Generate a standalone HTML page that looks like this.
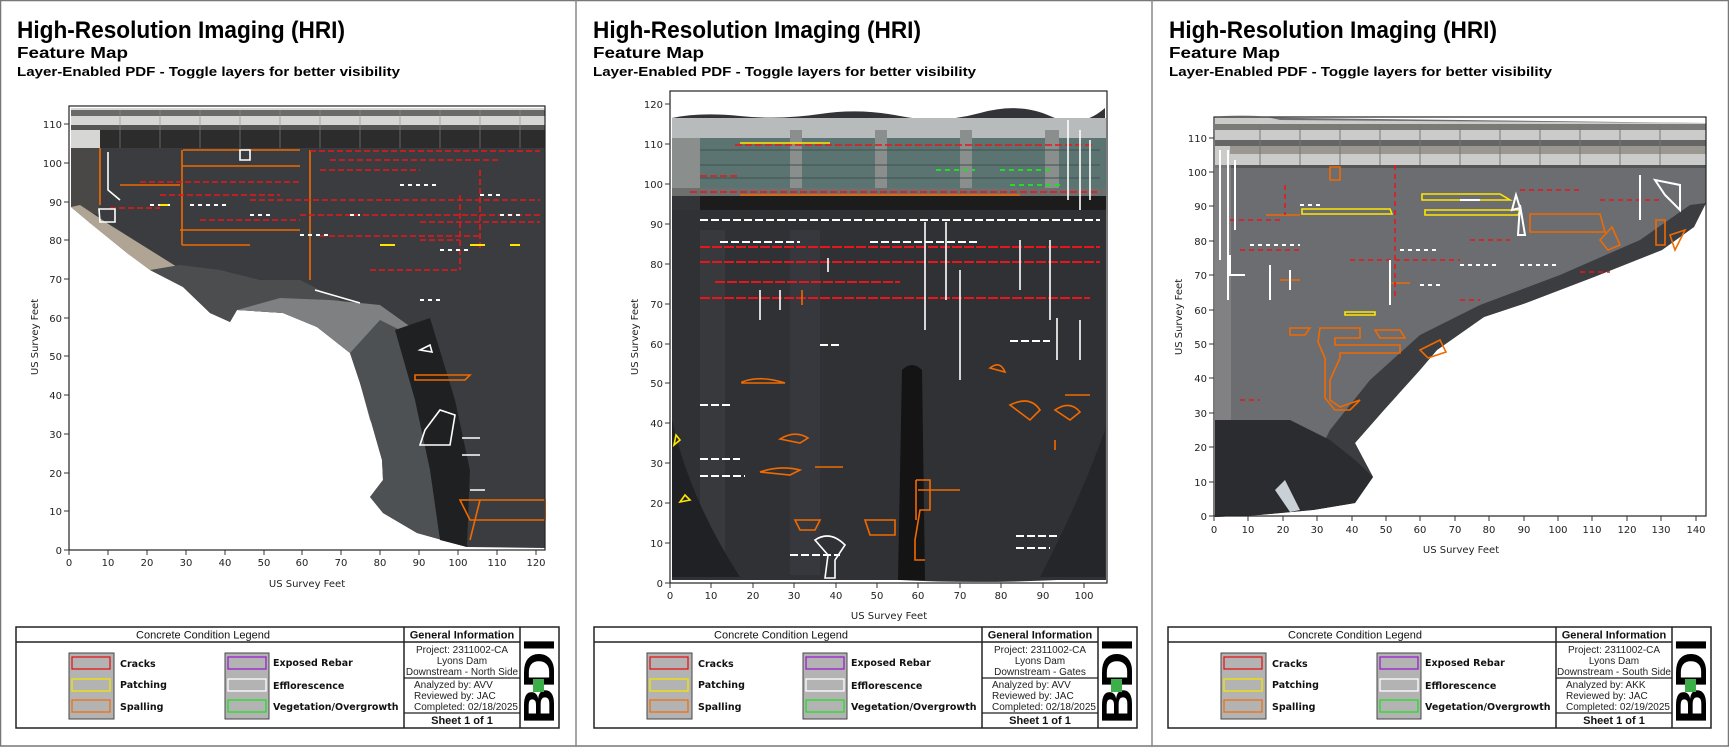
<!DOCTYPE html>
<html><head><meta charset="utf-8"><style>
html,body{margin:0;padding:0;background:#fff;}
svg{display:block;}
.t1{font-family:"Liberation Sans",Arial,sans-serif;font-weight:bold;}
.ax{font-family:"DejaVu Sans","Liberation Sans",sans-serif;font-size:10px;fill:#222;}
.lg{font-family:"DejaVu Sans","Liberation Sans",sans-serif;font-size:9.5px;font-weight:bold;fill:#111;}
.hd{font-family:"Liberation Sans",Arial,sans-serif;font-size:11px;fill:#111;}
.inf{font-family:"Liberation Sans",Arial,sans-serif;font-size:10px;fill:#222;}
</style></head><body>
<svg width="1729" height="747" viewBox="0 0 1729 747" xmlns="http://www.w3.org/2000/svg">
<rect x="0" y="0" width="1729" height="747" fill="#fff"/>
<rect x="0.5" y="0.5" width="1728" height="745.5" fill="none" stroke="#777" stroke-width="1.5"/>
<line x1="576" y1="0" x2="576" y2="747" stroke="#888" stroke-width="1.5"/>
<line x1="1152" y1="0" x2="1152" y2="747" stroke="#888" stroke-width="1.5"/>

<!-- Titles -->
<g class="t1" fill="#000">
<text x="17" y="38" font-size="24" textLength="328" lengthAdjust="spacingAndGlyphs">High-Resolution Imaging (HRI)</text>
<text x="17" y="58" font-size="16" textLength="111" lengthAdjust="spacingAndGlyphs">Feature Map</text>
<text x="17" y="76" font-size="13" textLength="383" lengthAdjust="spacingAndGlyphs">Layer-Enabled PDF - Toggle layers for better visibility</text>
<text x="593" y="38" font-size="24" textLength="328" lengthAdjust="spacingAndGlyphs">High-Resolution Imaging (HRI)</text>
<text x="593" y="58" font-size="16" textLength="111" lengthAdjust="spacingAndGlyphs">Feature Map</text>
<text x="593" y="76" font-size="13" textLength="383" lengthAdjust="spacingAndGlyphs">Layer-Enabled PDF - Toggle layers for better visibility</text>
<text x="1169" y="38" font-size="24" textLength="328" lengthAdjust="spacingAndGlyphs">High-Resolution Imaging (HRI)</text>
<text x="1169" y="58" font-size="16" textLength="111" lengthAdjust="spacingAndGlyphs">Feature Map</text>
<text x="1169" y="76" font-size="13" textLength="383" lengthAdjust="spacingAndGlyphs">Layer-Enabled PDF - Toggle layers for better visibility</text>
</g>

<!-- ========== PANEL 1 ========== -->
<polygon points="71,108 545,108 545,548 467,547 417,533 383,513 370,497 383,480 382,460 360,383 350,353 317,327 283,313 237,310 230,322 210,313 183,287 150,270 127,253 90,223 71,207" fill="#3b3c3f"/>
<rect x="71" y="108" width="474" height="40" fill="#d6d6d4"/>
<rect x="71" y="110" width="474" height="6" fill="#6a6a68"/>
<rect x="71" y="125" width="474" height="5" fill="#555553"/>
<rect x="100" y="130" width="445" height="18" fill="#2c2c2c"/>
<polygon points="71,148 100,148 100,215 71,207" fill="#4a4846"/>
<polygon points="71,207 90,223 127,253 150,270 183,287 200,296 190,275 150,250 110,225 80,205" fill="#b0a594"/>
<polygon points="150,270 183,287 210,313 230,322 237,310 283,313 317,327 350,353 340,300 300,280 260,280 220,270 180,265" fill="#4c4d4e"/>
<polygon points="237,310 283,313 317,327 350,353 360,383 370,420 380,440 410,410 415,330 380,305 330,300 280,298" fill="#7e8082"/>
<polygon points="350,353 360,383 382,460 383,480 370,497 383,513 417,533 467,547 470,470 455,400 420,340 380,320" fill="#4e5154"/>
<polygon points="395,330 430,318 455,400 470,470 467,547 440,540 430,470 415,400" fill="#1f2022"/>
<g stroke="#888" stroke-width="1" opacity="0.6">
<line x1="120" y1="110" x2="120" y2="148"/><line x1="160" y1="110" x2="160" y2="148"/><line x1="200" y1="110" x2="200" y2="148"/><line x1="240" y1="110" x2="240" y2="148"/><line x1="280" y1="110" x2="280" y2="148"/><line x1="320" y1="110" x2="320" y2="148"/><line x1="360" y1="110" x2="360" y2="148"/><line x1="400" y1="110" x2="400" y2="148"/><line x1="440" y1="110" x2="440" y2="148"/><line x1="480" y1="110" x2="480" y2="148"/><line x1="520" y1="110" x2="520" y2="148"/>
</g>
<g fill="none" stroke-width="1.6">
<path d="M183,150 H300 M182,166 H300 M100,148 V205 M182,150 V245 M310,150 V280 M182,245 H250 M120,185 H180 M180,230 H300" stroke="#f06a00"/>
<path d="M310,151 H540 M330,160 H500 M320,170 H420 M140,182 H300 M250,200 H540 M300,215 H540 M420,222 H540 M320,236 H480 M160,195 H280 M200,220 H300 M370,270 H460 M420,240 H460 M110,208 H160 M480,170 V250 M460,195 V270" stroke="#e8161a" stroke-dasharray="6 3"/>
<path d="M415,380 H465 L470,375 H415 Z M460,500 H545 V520 H470 Z M480,500 L470,540" stroke="#f06a00"/>
<path d="M108,152 V190 L120,200 M99,209 H115 V222 H100 Z M240,150 H250 V160 H240 Z M315,290 L360,303 M420,350 L430,345 L432,352 Z M425,430 L440,410 L455,415 L450,445 H420 Z M462,438 H480 M462,455 H480 M470,490 H485" stroke="#fff"/>
<path d="M150,205 H170 M190,205 H230 M250,215 H270 M300,235 H330 M350,215 H360 M400,185 H440 M440,250 H470 M480,195 H500 M500,215 H520 M420,300 H440" stroke="#fff" stroke-dasharray="4 4" stroke-width="2"/>
<path d="M380,245 H395 M470,245 H485 M510,245 H520 M160,205 H168" stroke="#ffe600" stroke-width="2"/>
</g>
<rect x="69" y="106" width="476" height="444" fill="none" stroke="#222" stroke-width="1.2"/>
<g stroke="#333" stroke-width="1">
<path d="M69,550 v5 M108,550 v5 M147,550 v5 M186,550 v5 M225,550 v5 M264,550 v5 M302,550 v5 M341,550 v5 M380,550 v5 M419,550 v5 M458,550 v5 M497,550 v5 M536,550 v5"/>
<path d="M64,550 h5 M64,511 h5 M64,473 h5 M64,434 h5 M64,395 h5 M64,356 h5 M64,318 h5 M64,279 h5 M64,240 h5 M64,202 h5 M64,163 h5 M64,124 h5"/>
</g>
<g class="ax" text-anchor="middle">
<text x="69" y="566">0</text><text x="108" y="566">10</text><text x="147" y="566">20</text><text x="186" y="566">30</text><text x="225" y="566">40</text><text x="264" y="566">50</text><text x="302" y="566">60</text><text x="341" y="566">70</text><text x="380" y="566">80</text><text x="419" y="566">90</text><text x="458" y="566">100</text><text x="497" y="566">110</text><text x="536" y="566">120</text>
<text x="307" y="587">US Survey Feet</text>
<text transform="translate(38,337) rotate(-90)">US Survey Feet</text>
</g>
<g class="ax" text-anchor="end">
<text x="62" y="554">0</text><text x="62" y="515">10</text><text x="62" y="477">20</text><text x="62" y="438">30</text><text x="62" y="399">40</text><text x="62" y="360">50</text><text x="62" y="322">60</text><text x="62" y="283">70</text><text x="62" y="244">80</text><text x="62" y="206">90</text><text x="62" y="167">100</text><text x="62" y="128">110</text>
</g>

<!-- ========== PANEL 2 ========== -->
<path d="M672,118 Q700,112 740,116 T820,114 T900,116 T980,113 T1050,116 T1105,108 V577 Q1000,585 900,580 T760,578 T672,575 Z" fill="#333438"/>
<rect x="672" y="118" width="434" height="20" fill="#b7bbbb"/>
<rect x="672" y="138" width="434" height="50" fill="#5b7471"/>
<g fill="#8a8e8c"><rect x="672" y="138" width="28" height="50"/><rect x="790" y="130" width="12" height="60"/><rect x="875" y="130" width="12" height="60"/><rect x="960" y="130" width="12" height="60"/><rect x="1045" y="130" width="14" height="60"/></g>
<g stroke="#3d524f" stroke-width="1"><line x1="700" y1="150" x2="1100" y2="150"/><line x1="700" y1="165" x2="1100" y2="165"/><line x1="700" y1="178" x2="1100" y2="178"/></g>
<rect x="672" y="188" width="434" height="8" fill="#6d6f6e"/>
<rect x="700" y="196" width="406" height="14" fill="#1c1c1d"/>
<rect x="672" y="210" width="434" height="370" fill="#303135"/>
<rect x="700" y="230" width="25" height="345" fill="#3b3d42" opacity="0.7"/>
<rect x="790" y="230" width="30" height="345" fill="#3a3c41" opacity="0.7"/>
<path d="M902,370 Q912,360 922,370 L925,580 H898 Z" fill="#141414"/>
<path d="M672,420 Q690,500 740,577 H672 Z" fill="#202124"/>
<path d="M1040,577 Q1080,500 1105,430 V577 Z" fill="#25262a"/>
<g fill="none" stroke-width="1.6">
<path d="M690,192 H1100 M700,176 H740 M735,145 H1095" stroke="#e8161a" stroke-dasharray="7 3"/>
<path d="M700,298 H1090 M700,247 H1100 M700,262 H1100 M715,282 H900" stroke="#e8161a" stroke-dasharray="10 2" stroke-width="2"/>
<path d="M740,195 H1020 M802,290 V305 M760,472 Q780,465 800,470 L790,475 Z M815,467 H843 M742,382 Q760,375 785,383 H742 Z M780,439 Q795,430 808,438 L800,443 Z M795,520 H820 L815,530 H800 Z M865,520 H895 V535 H870 Z M916,480 H930 V510 H920 L915,540 V560 H925 M916,480 V520 M918,490 H960 M1010,405 Q1030,395 1040,410 L1030,420 Z M1055,410 Q1070,400 1080,412 L1070,420 Z M1065,395 H1090 M1055,440 V450 M990,368 Q1000,360 1005,372 Z" stroke="#f06a00"/>
<path d="M700,220 H1100 M720,242 H800 M870,242 H980 M820,345 H840 M1010,341 H1050 M1016,536 H1058 M1016,548 H1050 M790,555 H840 M700,405 H730 M700,459 H740 M700,476 H745" stroke="#fff" stroke-width="2" stroke-dasharray="8 3"/>
<path d="M1068,120 V200 M1080,130 V210 M1090,140 V200 M925,222 V330 M946,222 V300 M1020,240 V290 M1050,240 V320 M760,290 V320 M780,290 V310 M828,258 V272 M960,330 V380 M960,270 V330 M1057,318 V360 M1080,320 V360 M815,540 Q830,530 845,545 L835,560 V578 H825 L828,555 Z" stroke="#fff"/>
<path d="M936,170 H975 M1000,170 H1050 M1010,185 H1060" stroke="#22dd22" stroke-dasharray="5 4" stroke-width="2"/>
<path d="M740,143 H830 M676,435 L680,440 L674,445 Z M685,495 L690,500 L680,502 Z" stroke="#ffe600"/>
</g>
<rect x="670" y="91" width="437" height="492" fill="none" stroke="#222" stroke-width="1.2"/>
<g stroke="#333" stroke-width="1">
<path d="M670,583 v5 M711,583 v5 M753,583 v5 M794,583 v5 M836,583 v5 M877,583 v5 M918,583 v5 M960,583 v5 M1001,583 v5 M1043,583 v5 M1084,583 v5"/>
<path d="M665,583 h5 M665,543 h5 M665,503 h5 M665,463 h5 M665,423 h5 M665,383 h5 M665,344 h5 M665,304 h5 M665,264 h5 M665,224 h5 M665,184 h5 M665,144 h5 M665,104 h5"/>
</g>
<g class="ax" text-anchor="middle">
<text x="670" y="599">0</text><text x="711" y="599">10</text><text x="753" y="599">20</text><text x="794" y="599">30</text><text x="836" y="599">40</text><text x="877" y="599">50</text><text x="918" y="599">60</text><text x="960" y="599">70</text><text x="1001" y="599">80</text><text x="1043" y="599">90</text><text x="1084" y="599">100</text>
<text x="889" y="619">US Survey Feet</text>
<text transform="translate(638,337) rotate(-90)">US Survey Feet</text>
</g>
<g class="ax" text-anchor="end">
<text x="663" y="587">0</text><text x="663" y="547">10</text><text x="663" y="507">20</text><text x="663" y="467">30</text><text x="663" y="427">40</text><text x="663" y="387">50</text><text x="663" y="348">60</text><text x="663" y="308">70</text><text x="663" y="268">80</text><text x="663" y="228">90</text><text x="663" y="188">100</text><text x="663" y="148">110</text><text x="663" y="108">120</text>
</g>

<!-- ========== PANEL 3 ========== -->
<polygon points="1215,117 1706,123 1706,203 1694,227 1662,250 1594,277 1526,303 1484,317 1437,350 1420,370 1384,410 1355,443 1373,477 1355,503 1313,510 1259,515 1215,517" fill="#6c6d70"/>
<path d="M1215,117 Q1250,112 1280,120 L1706,123 V165 H1215 Z" fill="#cbcbc9"/>
<rect x="1215" y="124" width="491" height="6" fill="#7a7a77"/>
<rect x="1215" y="140" width="491" height="6" fill="#666"/>
<rect x="1230" y="146" width="476" height="8" fill="#9a9890"/>
<g stroke="#777" stroke-width="1"><line x1="1260" y1="124" x2="1260" y2="165"/><line x1="1300" y1="124" x2="1300" y2="165"/><line x1="1340" y1="124" x2="1340" y2="165"/><line x1="1380" y1="124" x2="1380" y2="165"/><line x1="1420" y1="124" x2="1420" y2="165"/><line x1="1460" y1="124" x2="1460" y2="165"/><line x1="1500" y1="124" x2="1500" y2="165"/><line x1="1540" y1="124" x2="1540" y2="165"/><line x1="1580" y1="124" x2="1580" y2="165"/><line x1="1620" y1="124" x2="1620" y2="165"/><line x1="1660" y1="124" x2="1660" y2="165"/></g>
<rect x="1215" y="165" width="491" height="3" fill="#555"/>
<rect x="1215" y="165" width="16" height="300" fill="#8f8f8f" opacity="0.6"/>
<polygon points="1706,203 1694,227 1662,250 1594,277 1526,303 1484,317 1437,350 1420,370 1384,410 1355,443 1373,477 1355,503 1313,510 1305,480 1330,430 1370,380 1420,335 1480,305 1560,275 1640,240 1690,205" fill="#3c3d40"/>
<polygon points="1215,420 1290,420 1330,440 1355,460 1373,477 1355,503 1313,510 1259,515 1215,517" fill="#2b2c2f"/>
<path d="M1275,490 L1285,480 L1300,510 L1290,512 Z" fill="#c9d1d6"/>
<g fill="none" stroke-width="1.6">
<path d="M1302,209 H1390 L1392,214 H1302 Z M1425,210 H1520 L1518,215 H1425 Z M1422,194 H1500 L1510,200 H1422 Z M1345,312 H1375 V315 H1345 Z" stroke="#ffe600"/>
<path d="M1530,214 H1600 L1605,232 H1530 Z M1612,227 L1620,245 L1608,250 L1600,240 Z M1656,220 H1665 V245 H1656 Z M1670,235 L1685,230 L1675,250 Z M1290,328 H1310 L1305,335 H1290 Z M1320,328 H1360 V338 H1335 V345 H1400 V353 H1340 V358 L1330,380 V400 L1340,407 L1360,400 L1350,410 L1335,410 L1325,398 V358 L1318,342 Z M1375,330 H1400 L1405,338 H1380 Z M1420,350 L1440,340 L1446,352 L1428,358 Z M1330,167 H1340 V180 H1330 Z M1266,215 H1300 M1280,280 H1300 M1390,283 H1410" stroke="#f06a00"/>
<path d="M1230,220 H1280 M1285,185 V215 M1395,165 V300 M1240,250 H1300 M1350,260 H1460 M1520,190 H1580 M1600,200 H1660 M1470,240 H1510 M1580,272 H1610 M1460,300 H1480 M1240,400 H1260" stroke="#e8161a" stroke-dasharray="5 4"/>
<path d="M1220,150 V260 M1228,150 V300 M1235,160 V230 M1516,195 L1520,208 L1512,210 Z M1640,175 V220 M1655,180 L1680,185 V210 L1665,195 Z M1270,265 V300 M1290,270 V290 M1390,260 V305 M1460,200 H1480 M1520,205 L1518,235 H1525 Z M1230,255 V275 H1245" stroke="#fff" stroke-width="2"/>
<path d="M1300,205 H1320 M1250,245 H1300 M1400,250 H1440 M1460,265 H1500 M1420,285 H1440 M1520,265 H1560" stroke="#fff" stroke-dasharray="4 4" stroke-width="2"/>
</g>
<rect x="1214" y="117" width="492" height="399" fill="none" stroke="#222" stroke-width="1.2"/>
<g stroke="#333" stroke-width="1">
<path d="M1214,516 v5 M1248,516 v5 M1283,516 v5 M1317,516 v5 M1352,516 v5 M1386,516 v5 M1420,516 v5 M1455,516 v5 M1489,516 v5 M1524,516 v5 M1558,516 v5 M1592,516 v5 M1627,516 v5 M1661,516 v5 M1696,516 v5"/>
<path d="M1209,516 h5 M1209,482 h5 M1209,447 h5 M1209,413 h5 M1209,378 h5 M1209,344 h5 M1209,310 h5 M1209,275 h5 M1209,241 h5 M1209,206 h5 M1209,172 h5 M1209,138 h5"/>
</g>
<g class="ax" text-anchor="middle">
<text x="1214" y="533">0</text><text x="1248" y="533">10</text><text x="1283" y="533">20</text><text x="1317" y="533">30</text><text x="1352" y="533">40</text><text x="1386" y="533">50</text><text x="1420" y="533">60</text><text x="1455" y="533">70</text><text x="1489" y="533">80</text><text x="1524" y="533">90</text><text x="1558" y="533">100</text><text x="1592" y="533">110</text><text x="1627" y="533">120</text><text x="1661" y="533">130</text><text x="1696" y="533">140</text>
<text x="1461" y="553">US Survey Feet</text>
<text transform="translate(1182,317) rotate(-90)">US Survey Feet</text>
</g>
<g class="ax" text-anchor="end">
<text x="1207" y="520">0</text><text x="1207" y="486">10</text><text x="1207" y="451">20</text><text x="1207" y="417">30</text><text x="1207" y="382">40</text><text x="1207" y="348">50</text><text x="1207" y="314">60</text><text x="1207" y="279">70</text><text x="1207" y="245">80</text><text x="1207" y="210">90</text><text x="1207" y="176">100</text><text x="1207" y="142">110</text>
</g>

<!-- ========== LEGENDS ========== -->
<g transform="translate(16,627)">
<rect x="0" y="0" width="543" height="101" fill="#fff" stroke="#222" stroke-width="1.5"/>
<line x1="0" y1="15" x2="504" y2="15" stroke="#222" stroke-width="1.5"/>
<line x1="388" y1="0" x2="388" y2="101" stroke="#222" stroke-width="1.5"/>
<line x1="504" y1="0" x2="504" y2="101" stroke="#222" stroke-width="1.5"/>
<line x1="388" y1="51" x2="504" y2="51" stroke="#222" stroke-width="1.2"/>
<line x1="388" y1="86" x2="504" y2="86" stroke="#222" stroke-width="1.2"/>
<text class="hd" x="187" y="11.5" text-anchor="middle">Concrete Condition Legend</text>
<text class="hd" x="446" y="11.5" text-anchor="middle" font-weight="bold">General Information</text>
<rect x="53" y="26" width="45" height="66" fill="#b3b3b3" stroke="#444"/>
<rect x="56" y="30" width="38" height="12" fill="#b3b3b3" stroke="#e8161a" stroke-width="1.3"/>
<rect x="56" y="52" width="38" height="12" fill="#b3b3b3" stroke="#f2e600" stroke-width="1.3"/>
<rect x="56" y="73" width="38" height="12" fill="#b3b3b3" stroke="#f07010" stroke-width="1.3"/>
<text class="lg" x="104" y="40">Cracks</text><text class="lg" x="104" y="61">Patching</text><text class="lg" x="104" y="83">Spalling</text>
<rect x="209" y="26" width="44" height="66" fill="#b3b3b3" stroke="#444"/>
<rect x="212" y="30" width="38" height="12" fill="#b3b3b3" stroke="#9b1fd0" stroke-width="1.3"/>
<rect x="212" y="52" width="38" height="12" fill="#b3b3b3" stroke="#fff" stroke-width="1.3"/>
<rect x="212" y="73" width="38" height="12" fill="#b3b3b3" stroke="#22e022" stroke-width="1.3"/>
<text class="lg" x="257" y="39">Exposed Rebar</text><text class="lg" x="257" y="62">Efflorescence</text><text class="lg" x="257" y="83">Vegetation/Overgrowth</text>
<text class="inf" x="446" y="26" text-anchor="middle">Project: 2311002-CA</text>
<text class="inf" x="446" y="37" text-anchor="middle">Lyons Dam</text>
<text class="inf" x="446" y="48" text-anchor="middle">Downstream - North Side</text>
<text class="inf" x="398" y="61">Analyzed by:  AVV</text>
<text class="inf" x="398" y="72">Reviewed by: JAC</text>
<text class="inf" x="398" y="83">Completed: 02/18/2025</text>
<text class="hd" x="446" y="97" text-anchor="middle" font-weight="bold">Sheet 1 of 1</text>
<text class="t1" transform="translate(538,97) rotate(-90)" font-size="44" textLength="86" lengthAdjust="spacingAndGlyphs" fill="#000">BDI</text>
<rect x="517" y="52" width="11" height="13" fill="#3cae4a"/>
</g>

<g transform="translate(594,627)">
<rect x="0" y="0" width="543" height="101" fill="#fff" stroke="#222" stroke-width="1.5"/>
<line x1="0" y1="15" x2="504" y2="15" stroke="#222" stroke-width="1.5"/>
<line x1="388" y1="0" x2="388" y2="101" stroke="#222" stroke-width="1.5"/>
<line x1="504" y1="0" x2="504" y2="101" stroke="#222" stroke-width="1.5"/>
<line x1="388" y1="51" x2="504" y2="51" stroke="#222" stroke-width="1.2"/>
<line x1="388" y1="86" x2="504" y2="86" stroke="#222" stroke-width="1.2"/>
<text class="hd" x="187" y="11.5" text-anchor="middle">Concrete Condition Legend</text>
<text class="hd" x="446" y="11.5" text-anchor="middle" font-weight="bold">General Information</text>
<rect x="53" y="26" width="45" height="66" fill="#b3b3b3" stroke="#444"/>
<rect x="56" y="30" width="38" height="12" fill="#b3b3b3" stroke="#e8161a" stroke-width="1.3"/>
<rect x="56" y="52" width="38" height="12" fill="#b3b3b3" stroke="#f2e600" stroke-width="1.3"/>
<rect x="56" y="73" width="38" height="12" fill="#b3b3b3" stroke="#f07010" stroke-width="1.3"/>
<text class="lg" x="104" y="40">Cracks</text><text class="lg" x="104" y="61">Patching</text><text class="lg" x="104" y="83">Spalling</text>
<rect x="209" y="26" width="44" height="66" fill="#b3b3b3" stroke="#444"/>
<rect x="212" y="30" width="38" height="12" fill="#b3b3b3" stroke="#9b1fd0" stroke-width="1.3"/>
<rect x="212" y="52" width="38" height="12" fill="#b3b3b3" stroke="#fff" stroke-width="1.3"/>
<rect x="212" y="73" width="38" height="12" fill="#b3b3b3" stroke="#22e022" stroke-width="1.3"/>
<text class="lg" x="257" y="39">Exposed Rebar</text><text class="lg" x="257" y="62">Efflorescence</text><text class="lg" x="257" y="83">Vegetation/Overgrowth</text>
<text class="inf" x="446" y="26" text-anchor="middle">Project: 2311002-CA</text>
<text class="inf" x="446" y="37" text-anchor="middle">Lyons Dam</text>
<text class="inf" x="446" y="48" text-anchor="middle">Downstream - Gates</text>
<text class="inf" x="398" y="61">Analyzed by:  AVV</text>
<text class="inf" x="398" y="72">Reviewed by: JAC</text>
<text class="inf" x="398" y="83">Completed: 02/18/2025</text>
<text class="hd" x="446" y="97" text-anchor="middle" font-weight="bold">Sheet 1 of 1</text>
<text class="t1" transform="translate(538,97) rotate(-90)" font-size="44" textLength="86" lengthAdjust="spacingAndGlyphs" fill="#000">BDI</text>
<rect x="517" y="52" width="11" height="13" fill="#3cae4a"/>
</g>

<g transform="translate(1168,627)">
<rect x="0" y="0" width="543" height="101" fill="#fff" stroke="#222" stroke-width="1.5"/>
<line x1="0" y1="15" x2="504" y2="15" stroke="#222" stroke-width="1.5"/>
<line x1="388" y1="0" x2="388" y2="101" stroke="#222" stroke-width="1.5"/>
<line x1="504" y1="0" x2="504" y2="101" stroke="#222" stroke-width="1.5"/>
<line x1="388" y1="51" x2="504" y2="51" stroke="#222" stroke-width="1.2"/>
<line x1="388" y1="86" x2="504" y2="86" stroke="#222" stroke-width="1.2"/>
<text class="hd" x="187" y="11.5" text-anchor="middle">Concrete Condition Legend</text>
<text class="hd" x="446" y="11.5" text-anchor="middle" font-weight="bold">General Information</text>
<rect x="53" y="26" width="45" height="66" fill="#b3b3b3" stroke="#444"/>
<rect x="56" y="30" width="38" height="12" fill="#b3b3b3" stroke="#e8161a" stroke-width="1.3"/>
<rect x="56" y="52" width="38" height="12" fill="#b3b3b3" stroke="#f2e600" stroke-width="1.3"/>
<rect x="56" y="73" width="38" height="12" fill="#b3b3b3" stroke="#f07010" stroke-width="1.3"/>
<text class="lg" x="104" y="40">Cracks</text><text class="lg" x="104" y="61">Patching</text><text class="lg" x="104" y="83">Spalling</text>
<rect x="209" y="26" width="44" height="66" fill="#b3b3b3" stroke="#444"/>
<rect x="212" y="30" width="38" height="12" fill="#b3b3b3" stroke="#9b1fd0" stroke-width="1.3"/>
<rect x="212" y="52" width="38" height="12" fill="#b3b3b3" stroke="#fff" stroke-width="1.3"/>
<rect x="212" y="73" width="38" height="12" fill="#b3b3b3" stroke="#22e022" stroke-width="1.3"/>
<text class="lg" x="257" y="39">Exposed Rebar</text><text class="lg" x="257" y="62">Efflorescence</text><text class="lg" x="257" y="83">Vegetation/Overgrowth</text>
<text class="inf" x="446" y="26" text-anchor="middle">Project: 2311002-CA</text>
<text class="inf" x="446" y="37" text-anchor="middle">Lyons Dam</text>
<text class="inf" x="446" y="48" text-anchor="middle">Downstream - South Side</text>
<text class="inf" x="398" y="61">Analyzed by:  AKK</text>
<text class="inf" x="398" y="72">Reviewed by: JAC</text>
<text class="inf" x="398" y="83">Completed: 02/19/2025</text>
<text class="hd" x="446" y="97" text-anchor="middle" font-weight="bold">Sheet 1 of 1</text>
<text class="t1" transform="translate(538,97) rotate(-90)" font-size="44" textLength="86" lengthAdjust="spacingAndGlyphs" fill="#000">BDI</text>
<rect x="517" y="52" width="11" height="13" fill="#3cae4a"/>
</g>
</svg>
</body></html>
